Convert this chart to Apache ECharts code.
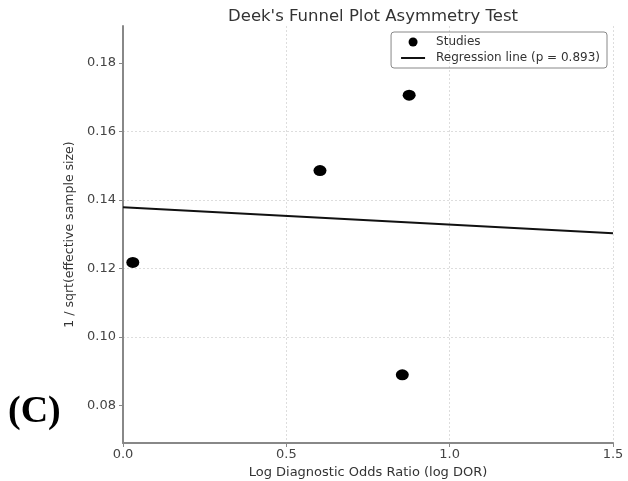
<!DOCTYPE html>
<html>
<head>
<meta charset="utf-8">
<script src="https://cdn.jsdelivr.net/npm/echarts@6/dist/echarts.min.js"></script>
<style>
  html, body { margin: 0; padding: 0; background: #fff; }
  #main { width: 628px; height: 481px; }
</style>
</head>
<body>
<div id="main"></div>
<script>
  // studies: log DOR vs 1/sqrt(ESS)
  var studyX = [0.03, 0.603, 0.876, 0.855];
  var studyY = [0.1218, 0.1486, 0.1706, 0.089];
  // regression line end points
  var regX = [0, 1.5];
  var regY = [0.1379, 0.1303];
  var yTicks = [0.08, 0.10, 0.12, 0.14, 0.16, 0.18];

  var font = 'DejaVu Sans';
  var chart = echarts.init(document.getElementById('main'));

  chart.setOption({
    animation: false,
    title: {
      text: "Deek's Funnel Plot Asymmetry Test",
      left: 368,
      textAlign: 'center',
      top: 3,
      textStyle: { fontFamily: font, fontSize: 16.5, fontWeight: 'normal', color: '#333' }
    },
    legend: {
      orient: 'vertical',
      right: 21,
      top: 32,
      padding: [4, 7, 4, 9],
      itemGap: 4,
      itemWidth: 24,
      itemHeight: 9,
      borderColor: '#888',
      borderWidth: 1,
      borderRadius: 3,
      textStyle: { fontFamily: font, fontSize: 12, color: '#333', padding: [0, 0, 0, 6] },
      data: [
        { name: 'Studies' },
        { name: 'Regression line (p = 0.893)', itemStyle: { color: 'rgba(0,0,0,0)', borderWidth: 0 } }
      ]
    },
    grid: { left: 123, right: 15, top: 26, bottom: 38, outerBoundsMode: 'none' },
    xAxis: {
      type: 'value',
      min: 0,
      max: 1.5,
      interval: 0.5,
      name: 'Log Diagnostic Odds Ratio (log DOR)',
      nameLocation: 'middle',
      nameGap: 14,
      nameTextStyle: { fontFamily: font, fontSize: 13, color: '#333' },
      axisLine: { lineStyle: { color: '#888', width: 2 } },
      axisTick: { length: 4, lineStyle: { color: '#888' } },
      axisLabel: {
        fontFamily: font, fontSize: 13, color: '#444', margin: 5,
        formatter: function (v) { return v.toFixed(1); }
      },
      splitLine: { show: true, showMinLine: false, lineStyle: { color: '#ddd', type: [2, 2] } }
    },
    yAxis: {
      type: 'value',
      min: 0.0691,
      max: 0.1908,
      splitNumber: 6,
      name: '1 / sqrt(effective sample size)',
      nameLocation: 'middle',
      nameGap: 40,
      nameTextStyle: { fontFamily: font, fontSize: 12.5, color: '#333' },
      axisLine: { show: true, lineStyle: { color: '#888', width: 2 } },
      axisTick: { show: true, length: 4, customValues: yTicks, lineStyle: { color: '#888' } },
      axisLabel: {
        fontFamily: font, fontSize: 13, color: '#444', margin: 7,
        customValues: yTicks,
        formatter: function (v) { return v.toFixed(2); }
      },
      splitLine: { show: true, showMinLine: false, showMaxLine: false, lineStyle: { color: '#ddd', type: [2, 2] } }
    },
    graphic: [{
      type: 'text',
      left: 8,
      top: 393,
      style: { text: '(C)', font: 'bold 38px "Liberation Serif"', fill: '#000' }
    }],
    series: [{
      name: 'Studies',
      type: 'scatter',
      symbol: 'circle',
      symbolSize: [13, 11],
      itemStyle: { color: '#000', opacity: 1 },
      data: studyX.map(function (x, i) { return [x, studyY[i]]; })
    }, {
      name: 'Regression line (p = 0.893)',
      type: 'line',
      symbol: 'none',
      itemStyle: { color: '#111' },
      lineStyle: { color: '#111', width: 2 },
      data: regX.map(function (x, i) { return [x, regY[i]]; })
    }]
  });
</script>
</body>
</html>
